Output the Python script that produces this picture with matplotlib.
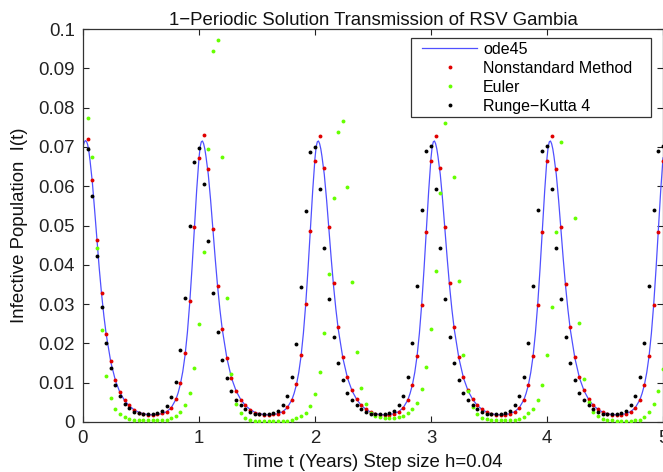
import numpy as np
import matplotlib
matplotlib.use("Agg")
import matplotlib.pyplot as plt
from matplotlib.patches import Rectangle

plt.rcParams['font.family'] = ['Liberation Sans', 'DejaVu Sans']

# ---------------- data ----------------
h = 0.04
steps = np.arange(1, 126)          # t = h, 2h, ..., 5
t_dots = steps * h

nonstandard = [
    .0719, .0615, .0462, .0327, .0224, .0154, .0106, .0076, .0055, .0042, .0031, .0024, .0020,
    .0018, .0018, .0020, .0022, .0026, .0036, .0059, .0098, .0175, .0307, .0496, .0673,
    .0730, .0643, .0490, .0346, .0237, .0163, .0112, .0079, .0057, .0042, .0031, .0024, .0020,
    .0018, .0018, .0020, .0021, .0026, .0037, .0057, .0096, .0170, .0299, .0485, .0665,
    .0729, .0646, .0496, .0353, .0242, .0165, .0115, .0081, .0058, .0043, .0032, .0025, .0020,
    .0018, .0018, .0019, .0021, .0026, .0036, .0056, .0095, .0168, .0298, .0484, .0664,
    .0728, .0646, .0496, .0353, .0242, .0165, .0115, .0081, .0058, .0043, .0032, .0025, .0020,
    .0018, .0018, .0019, .0021, .0026, .0036, .0056, .0095, .0168, .0298, .0484, .0664,
    .0728, .0645, .0495, .0352, .0241, .0165, .0115, .0081, .0058, .0043, .0032, .0025, .0020,
    .0018, .0018, .0019, .0021, .0026, .0036, .0056, .0095, .0168, .0297, .0484, .0664,
]

euler = [
    .0774, .0675, .0443, .0235, .0117, .0060, .0033, .0020, .0013, .0008, .0006, .0005, .0004,
    .0004, .0004, .0004, .0005, .0006, .0009, .0015, .0026, .0043, .0074, .0137, .0249,
    .0433, .0695, .0943, .0971, .0674, .0315, .0121, .0047, .0022, .0011, .0005, .0003, .0003,
    .0003, .0003, .0003, .0003, .0003, .0003, .0005, .0009, .0016, .0024, .0041, .0071,
    .0128, .0226, .0377, .0569, .0739, .0767, .0599, .0355, .0178, .0087, .0045, .0024, .0016,
    .0012, .0011, .0011, .0011, .0012, .0016, .0022, .0032, .0049, .0083, .0139, .0236,
    .0384, .0582, .0762, .0790, .0623, .0359, .0170, .0080, .0039, .0021, .0011, .0007, .0005,
    .0004, .0004, .0004, .0004, .0005, .0008, .0013, .0022, .0034, .0055, .0095, .0170,
    .0293, .0484, .0712, .0880, .0820, .0518, .0253, .0109, .0050, .0025, .0014, .0008, .0005,
    .0004, .0003, .0003, .0003, .0003, .0004, .0006, .0012, .0025, .0046, .0078, .0135,
]

rk4 = [
    .0695, .0575, .0423, .0293, .0200, .0137, .0094, .0067, .0047, .0036, .0026, .0022, .0020,
    .0020, .0020, .0024, .0029, .0041, .0063, .0103, .0182, .0316, .0500, .0661, .0697,
    .0605, .0461, .0329, .0229, .0159, .0111, .0079, .0057, .0042, .0033, .0025, .0021, .0020,
    .0020, .0020, .0024, .0028, .0043, .0067, .0114, .0199, .0344, .0536, .0687, .0700,
    .0592, .0444, .0313, .0217, .0150, .0106, .0075, .0055, .0042, .0032, .0025, .0021, .0020,
    .0020, .0020, .0024, .0028, .0043, .0067, .0114, .0200, .0347, .0539, .0690, .0703,
    .0593, .0444, .0313, .0217, .0150, .0106, .0075, .0055, .0042, .0032, .0025, .0021, .0020,
    .0020, .0020, .0024, .0028, .0043, .0067, .0114, .0200, .0347, .0539, .0690, .0703,
    .0593, .0444, .0313, .0217, .0150, .0106, .0075, .0055, .0042, .0032, .0025, .0021, .0020,
    .0020, .0020, .0024, .0028, .0043, .0067, .0114, .0200, .0347, .0539, .0690, .0702,
]

# ode45 reference solution: sample times within each year and read values
ode_tau = [0.00, 0.01, 0.02, 0.03, 0.04, 0.05, 0.06, 0.08, 0.10, 0.12, 0.14, 0.16, 0.18,
           0.20, 0.24, 0.28, 0.32, 0.36, 0.40, 0.44, 0.48, 0.52, 0.56, 0.60, 0.64, 0.68,
           0.72, 0.76, 0.80, 0.82, 0.84, 0.86, 0.88, 0.90, 0.92, 0.94, 0.96, 0.98]
ode_year0 = [.0700, .0711, .0716, .0714, .0706, .0690, .0667, .0612, .0540, .0464, .0391, .0326, .0270,
             .0223, .0152, .0105, .0074, .0054, .0041, .0031, .0025, .0021, .0019, .0018, .0019, .0021,
             .0026, .0036, .0057, .0074, .0097, .0128, .0170, .0228, .0303, .0393, .0493, .0590]
ode_year1 = [.0672, .0700, .0713, .0715, .0708, .0695, .0676, .0630, .0565, .0490, .0415, .0346, .0287,
             .0237, .0163, .0112, .0079, .0057, .0042, .0032, .0025, .0021, .0019, .0018, .0019, .0021,
             .0026, .0036, .0056, .0073, .0095, .0126, .0168, .0226, .0300, .0390, .0490, .0588]
ode_year2 = [.0672, .0700, .0713, .0715, .0708, .0695, .0676, .0630, .0565, .0490, .0415, .0346, .0287,
             .0237, .0163, .0112, .0079, .0057, .0042, .0032, .0025, .0021, .0019, .0018, .0019, .0021,
             .0026, .0036, .0056, .0073, .0095, .0126, .0168, .0226, .0300, .0390, .0490, .0588]
ode_year3 = [.0672, .0700, .0713, .0715, .0708, .0695, .0676, .0630, .0565, .0490, .0415, .0346, .0287,
             .0237, .0163, .0112, .0079, .0057, .0042, .0032, .0025, .0021, .0019, .0018, .0019, .0021,
             .0026, .0036, .0056, .0073, .0095, .0126, .0168, .0226, .0300, .0390, .0490, .0588]
ode_year4 = [.0672, .0700, .0713, .0715, .0708, .0695, .0676, .0630, .0565, .0490, .0415, .0346, .0287,
             .0237, .0163, .0112, .0079, .0057, .0042, .0032, .0025, .0021, .0019, .0018, .0019, .0021,
             .0026, .0036, .0056, .0073, .0095, .0126, .0168, .0226, .0300, .0390, .0490, .0588]
ode_end_t = 5.0
ode_end_v = .0672

x_ticks = [0, 1, 2, 3, 4, 5]
y_ticks = [0, 0.01, 0.02, 0.03, 0.04, 0.05, 0.06, 0.07, 0.08, 0.09, 0.1]
y_ticklabels = ['0', '0.01', '0.02', '0.03', '0.04', '0.05', '0.06', '0.07', '0.08', '0.09', '0.1']

# ---------------- build ode45 series ----------------
ode_years = [ode_year0, ode_year1, ode_year2, ode_year3, ode_year4]
t_ode = []
v_ode = []
for yr, vals in enumerate(ode_years):
    t_ode += [yr + tau for tau in ode_tau]
    v_ode += vals
t_ode.append(ode_end_t)
v_ode.append(ode_end_v)

# ---------------- figure ----------------
W, H = 663, 472
AX_L, AX_R, AX_T, AX_B = 83, 663, 29, 422
fig = plt.figure(figsize=(W / 100, H / 100), dpi=100)
ax = fig.add_axes([AX_L / W, 1 - AX_B / H, (AX_R - AX_L) / W, (AX_B - AX_T) / H])

def ax_x(px):
    return (px - AX_L) / (AX_R - AX_L)

def ax_y(py):
    return (AX_B - py) / (AX_B - AX_T)

FS = 13.4
ax.plot(t_ode, v_ode, color='#5050ff', lw=0.9, label='ode45', zorder=2)
ms = 2.8
ax.plot(t_dots, nonstandard, 'o', ms=ms, mew=0, color='#e00000', label='Nonstandard Method', zorder=3)
ax.plot(t_dots, euler, 'o', ms=ms, mew=0, color='#66ff00', label='Euler', zorder=3)
ax.plot(t_dots, rk4, 'o', ms=ms, mew=0, color='#000000', label='Runge\u2212Kutta 4', zorder=4)

ax.set_xlim(0, 5)
ax.set_ylim(0, 0.1)
ax.set_xticks(x_ticks)
ax.set_xticklabels([str(v) for v in x_ticks])
ax.set_yticks(y_ticks)
ax.set_yticklabels(y_ticklabels)

ax.tick_params(direction='in', length=4, width=0.8, top=True, right=True,
               labelsize=FS, colors='#222222', pad=6)
for sp in ax.spines.values():
    sp.set_color('#333333')
    sp.set_linewidth(0.9)

ax.set_title('1\u2212Periodic Solution Transmission of RSV Gambia', fontsize=FS, pad=3, color='#111111')
ax.set_xlabel('Time t (Years) Step size h=0.04', fontsize=FS, labelpad=5, color='#111111')
ax.set_ylabel('Infective Population  I(t)', fontsize=FS, labelpad=7, color='#111111')

# legend frame (MATLAB style box) and entries
box = Rectangle((ax_x(411), ax_y(117)), ax_x(651) - ax_x(411), ax_y(38) - ax_y(117),
                transform=ax.transAxes, facecolor='white', edgecolor='#333333',
                lw=0.9, zorder=5, clip_on=False)
ax.add_patch(box)
leg = ax.legend(loc='upper left', bbox_to_anchor=(ax_x(422), ax_y(42)),
                borderaxespad=0, borderpad=0, fontsize=11.5, handlelength=3.45,
                handletextpad=0.38, labelspacing=0.25, frameon=False)
leg.set_zorder(6)

fig.savefig('out.png', dpi=100)
